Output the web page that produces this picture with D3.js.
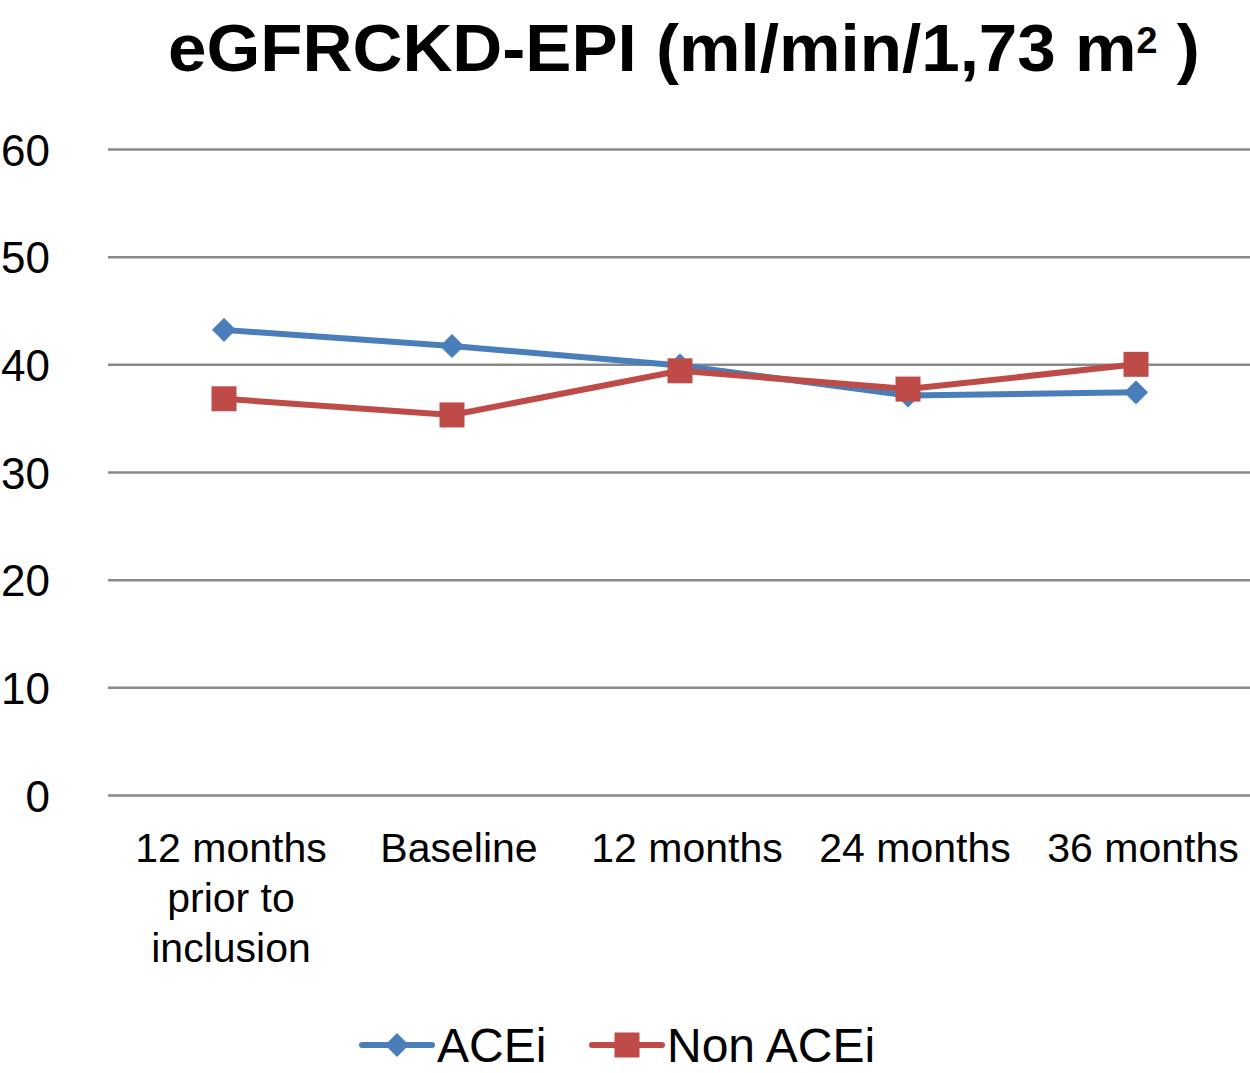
<!DOCTYPE html>
<html>
<head>
<meta charset="utf-8">
<script src="https://cdn.jsdelivr.net/npm/d3@7"></script>
<style>
  body { margin: 0; background: #fff; }
  text { font-family: "Liberation Sans", Arial, sans-serif; }
</style>
</head>
<body>
<div id="chart"></div>
<script>

var categories = [["12 months", "prior to", "inclusion"], ["Baseline"], ["12 months"], ["24 months"], ["36 months"]];
var acei = [43.2, 41.7, 39.9, 37.1, 37.4];
var nonAcei = [36.8, 35.3, 39.4, 37.7, 40.0];
var yTicks = [0, 10, 20, 30, 40, 50, 60];
var seriesNames = ["ACEi", "Non ACEi"];

var svg = d3.select("#chart")
  .append("svg")
  .attr("width", 1250)
  .attr("height", 1073);

var margin = {top: 149, right: 0, bottom: 278, left: 110},
    width = svg.attr("width") - margin.left - margin.right,
    height = svg.attr("height") - margin.top - margin.bottom;

var x = d3.scalePoint()
    .domain(d3.range(categories.length))
    .range([0, width])
    .padding(0.5);

var y = d3.scaleLinear()
    .domain([0, 60])
    .range([height, 0]);

var color = d3.scaleOrdinal()
  .domain(seriesNames)
  .range(["#4a7ebb", "#be4b48"]);

// title, squeezed to the width it has in the picture
var title = svg.append("text")
    .attr("x", 0)
    .attr("y", 0)
    .style("font-size", "66px")
    .style("font-weight", "bold");
title.append("tspan").text("eGFRCKD-EPI (ml/min/1,73 m");
title.append("tspan").attr("dy", -18).style("font-size", "36px").text("2");
title.append("tspan").attr("dy", 18).text(" )");
var tw = title.node().getComputedTextLength();
title.attr("transform", "translate(168,71) scale(" + (1032 / tw) + ",1)");

var g = svg.append("g")
    .attr("transform", "translate(" + margin.left + "," + margin.top + ")");

// grid + y axis
var yAxis = g.append("g")
    .call(d3.axisLeft(y).tickValues(yTicks).tickSize(-width - 2).tickPadding(60));
yAxis.select(".domain").remove();
yAxis.selectAll(".tick line")
    .attr("x1", -2)
    .attr("stroke", "#898989")
    .attr("stroke-width", 2.5);
yAxis.selectAll(".tick text")
    .attr("fill", "#000")
    .style("font-size", "44px")
    .attr("dy", "0.32em")
    .attr("transform", "translate(0,2)");

// x labels
var xl = g.append("g").selectAll("text")
    .data(categories)
  .enter().append("text")
    .attr("x", function(d, i) { return x(i) + 7; })
    .attr("y", height + 67)
    .style("text-anchor", "middle")
    .style("font-size", "41px");
xl.selectAll("tspan")
    .data(function(d) { return d; })
  .enter().append("tspan")
    .attr("x", function() { return d3.select(this.parentNode).attr("x"); })
    .attr("dy", function(d, i) { return i ? 50 : 0; })
    .text(function(d) { return d; });

var line = d3.line()
    .x(function(d, i) { return x(i); })
    .y(function(d) { return y(d); });

var series = [acei, nonAcei];

series.forEach(function(vals, k) {
  g.append("path")
      .attr("d", line(vals))
      .attr("fill", "none")
      .attr("stroke", color(seriesNames[k]))
      .attr("stroke-width", 6)
      .attr("stroke-linejoin", "round");
});

series.forEach(function(vals, k) {
  g.append("g").selectAll("path")
      .data(vals)
    .enter().append("path")
      .attr("transform", function(d, i) { return "translate(" + x(i) + "," + y(d) + ")" + (k == 0 ? " rotate(45)" : ""); })
      .attr("d", k == 0 ? "M-8,-8H8V8H-8Z" : "M-12.5,-12.5H12.5V12.5H-12.5Z")
      .attr("stroke", color(seriesNames[k]))
      .attr("stroke-width", k == 0 ? 1 : 0)
      .attr("stroke-linejoin", "round")
      .style("fill", color(seriesNames[k]));
});

// legend
var legendX = [362, 592];
var legend = svg.selectAll(".legend")
    .data(seriesNames)
  .enter().append("g")
    .attr("class", "legend")
    .attr("transform", function(d, i) { return "translate(" + legendX[i] + ",1045)"; });

legend.append("line")
    .attr("x1", 0)
    .attr("x2", 70)
    .attr("stroke", function(d) { return color(d); })
    .attr("stroke-width", 6)
    .attr("stroke-linecap", "round");

legend.append("path")
    .attr("transform", function(d, i) { return "translate(35,0)" + (i == 0 ? " rotate(45)" : ""); })
    .attr("d", function(d, i) { return i == 0 ? "M-8.5,-8.5H8.5V8.5H-8.5Z" : "M-12.5,-12.5H12.5V12.5H-12.5Z"; })
    .style("fill", function(d) { return color(d); });

legend.append("text")
    .attr("x", 75)
    .attr("y", 17)
    .style("font-size", "48px")
    .text(function(d) { return d; });

</script>
</body>
</html>
